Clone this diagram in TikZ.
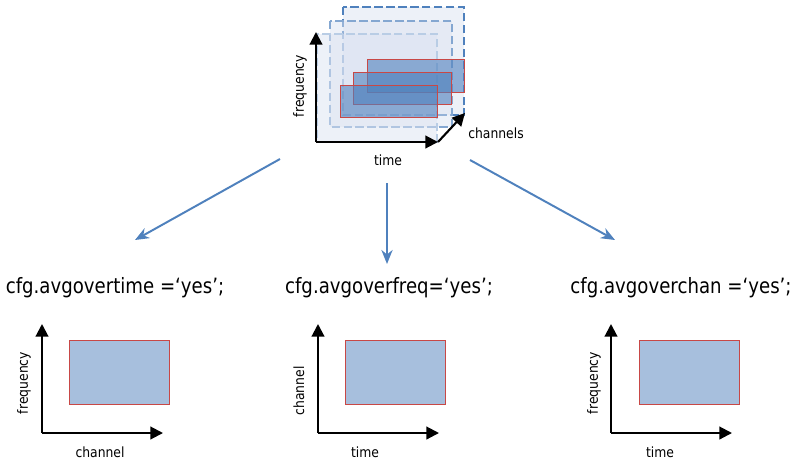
\documentclass[tikz,border=0pt]{standalone}
\usepackage{fontspec}
\setmainfont{DejaVu Sans}
\newfontfamily\narrowfont[FakeStretch=0.88]{DejaVu Sans}
\newfontfamily\codefont[FakeStretch=0.86]{DejaVu Sans}
\usepackage{tikz}
\usetikzlibrary{arrows, arrows.meta, positioning}
\definecolor{layerblue}{RGB}{79,129,189}
\definecolor{framered}{RGB}{200,72,70}
\definecolor{panelfill}{RGB}{167,191,221}
\definecolor{layerfill}{RGB}{220,227,241}
\tikzstyle{layer} = [dash pattern=on 6pt off 2.5pt, line width=1.1pt, fill=layerfill, fill opacity=0.5]
\tikzstyle{band} = [draw=framered, line width=0.7pt, fill=layerblue, fill opacity=0.6]
\tikzstyle{panel} = [draw=framered, line width=0.7pt, fill=panelfill]
\tikzstyle{axis} = [line width=1.5pt, -{Triangle[length=9pt, width=9pt]}]
\tikzstyle{arrow} = [line width=1.4pt, draw=layerblue, -{Stealth[length=10pt, width=8pt]}, >=stealth]
\tikzstyle{axislabel} = [inner sep=1pt, font=\narrowfont\fontsize{10}{12}\selectfont]
\tikzstyle{code} = [inner sep=1pt, font=\codefont\fontsize{15}{18}\selectfont]

\begin{document}
\begin{tikzpicture}[x=0.025cm, y=-0.025cm]
	    	\useasboundingbox (0,0) rectangle (800,474);
	    	% stacked channel layers
	    	\draw [layer, draw=layerblue] (343,7) rectangle (464,115);
	    	\draw [layer, draw=layerblue!70] (330,21) rectangle (452,127);
	    	\draw [layer, draw=layerblue!40] (317,34) rectangle (437,142);
	    	\draw [band] (367,59) rectangle (464,92);
	    	\draw [band] (353,72) rectangle (451,104);
	    	\draw [band] (340,85) rectangle (437,117);
	    	
	    	\coordinate (origin) at (316,142);
	    	\coordinate (freqTop) at (316,32);
	    	\coordinate (timeEnd) at (438,142);
	    	\coordinate (chanEnd) at (465,113);
	    	\draw [axis] (origin) -- (freqTop);
	    	\draw [axis] (origin) -- (timeEnd);
	    	\draw [axis] (timeEnd) -- (chanEnd);
	    	\node (lblFreq) [axislabel, rotate=90] at (300,86) {frequency};
	    	\node (lblTime) [axislabel] at (388,160) {time};
	    	\node (lblChan) [axislabel] at (496,133) {channels};
	    	
	    	% configuration options
	    	\node (cfgTime) [code] at (115,288) {cfg.avgovertime =‘yes’;};
	    	\node (cfgFreq) [code] at (389,288) {cfg.avgoverfreq=‘yes’;};
	    	\node (cfgChan) [code] at (681,288) {cfg.avgoverchan =‘yes’;};
	    	
	    	\coordinate (fromLeft) at (280,159);
	    	\coordinate (fromMid) at (387,183);
	    	\coordinate (fromRight) at (470,160);
	    	\coordinate (toLeft) at (135,240);
	    	\coordinate (toMid) at (387,264);
	    	\coordinate (toRight) at (615,240);
	    	\draw [arrow] (fromLeft) -- (toLeft);
	    	\draw [arrow] (fromMid) -- (toMid);
	    	\draw [arrow] (fromRight) -- (toRight);
	    	
	    	% average over time
	    	\coordinate (oTime) at (42,433);
	    	\coordinate (oTimeUp) at (42,324);
	    	\coordinate (oTimeRight) at (163,433);
	    	\draw [panel] (69,340) rectangle (169,404);
	    	\draw [axis] (oTime) -- (oTimeUp);
	    	\draw [axis] (oTime) -- (oTimeRight);
	    	\node (lblTimeY) [axislabel, rotate=90] at (24,383) {frequency};
	    	\node (lblTimeX) [axislabel] at (100,452) {channel};
	    	
	    	% average over frequency
	    	\coordinate (oFreq) at (318,433);
	    	\coordinate (oFreqUp) at (318,324);
	    	\coordinate (oFreqRight) at (439,433);
	    	\draw [panel] (345,340) rectangle (445,404);
	    	\draw [axis] (oFreq) -- (oFreqUp);
	    	\draw [axis] (oFreq) -- (oFreqRight);
	    	\node (lblFreqY) [axislabel, rotate=90] at (299,391) {channel};
	    	\node (lblFreqX) [axislabel] at (365,452) {time};
	    	
	    	% average over channels
	    	\coordinate (oChan) at (611,433);
	    	\coordinate (oChanUp) at (611,324);
	    	\coordinate (oChanRight) at (732,433);
	    	\draw [panel] (639,340) rectangle (739,404);
	    	\draw [axis] (oChan) -- (oChanUp);
	    	\draw [axis] (oChan) -- (oChanRight);
	    	\node (lblChanY) [axislabel, rotate=90] at (594,383) {frequency};
	    	\node (lblChanX) [axislabel] at (660,452) {time};
    	\end{tikzpicture}
\end{document}
